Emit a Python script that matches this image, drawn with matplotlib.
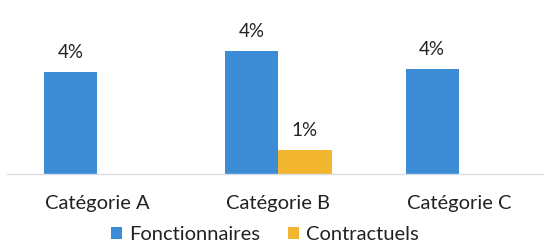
import matplotlib.pyplot as plt
import numpy as np

categories = ['Catégorie A', 'Catégorie B', 'Catégorie C']
fonctionnaires = [3.65, 4.4, 3.75]
contractuels = [0, 0.85, 0]
labels_fonct = ['4%', '4%', '4%']
labels_contr = ['', '1%', '']

blue = '#3C8DD6'
orange = '#F2B630'

plt.rcParams['font.family'] = ['Lato', 'DejaVu Sans']

fig = plt.figure(figsize=(5.44, 2.46), dpi=100)
ax = fig.add_axes([7 / 544, 72 / 246, 537 / 544, 164 / 246])

x = np.arange(len(categories))
w = 0.296
b1 = ax.bar(x - w / 2, fonctionnaires, w, color=blue, label='Fonctionnaires')
b2 = ax.bar(x + w / 2, contractuels, w, color=orange, label='Contractuels')

for rect, lab in zip(b1, labels_fonct):
    ax.annotate(lab, (rect.get_x() + rect.get_width() / 2, rect.get_height()),
                xytext=(0, 8), textcoords='offset points', ha='center', va='bottom',
                fontsize=13.5, color='#222222')
for rect, lab in zip(b2, labels_contr):
    if lab:
        ax.annotate(lab, (rect.get_x() + rect.get_width() / 2, rect.get_height()),
                    xytext=(0, 8), textcoords='offset points', ha='center', va='bottom',
                    fontsize=13.5, color='#222222')

ax.set_xlim(-0.5, 2.47)
ax.set_ylim(0, 5.86)
ax.set_xticks(x)
ax.set_xticklabels(categories, fontsize=14.5, color='#222222')
ax.tick_params(axis='x', length=0, pad=15)
ax.set_yticks([])
for s in ['top', 'right', 'left']:
    ax.spines[s].set_visible(False)
ax.spines['bottom'].set_color('#d8dde6')
ax.spines['bottom'].set_linewidth(1)

fig.legend(loc='lower center', bbox_to_anchor=(0.487, -0.062), ncol=2, frameon=False,
           fontsize=14.5, handlelength=0.55, handleheight=0.55, handletextpad=0.35,
           columnspacing=1.35, labelcolor='#222222')

fig.savefig('out.png', dpi=100)
